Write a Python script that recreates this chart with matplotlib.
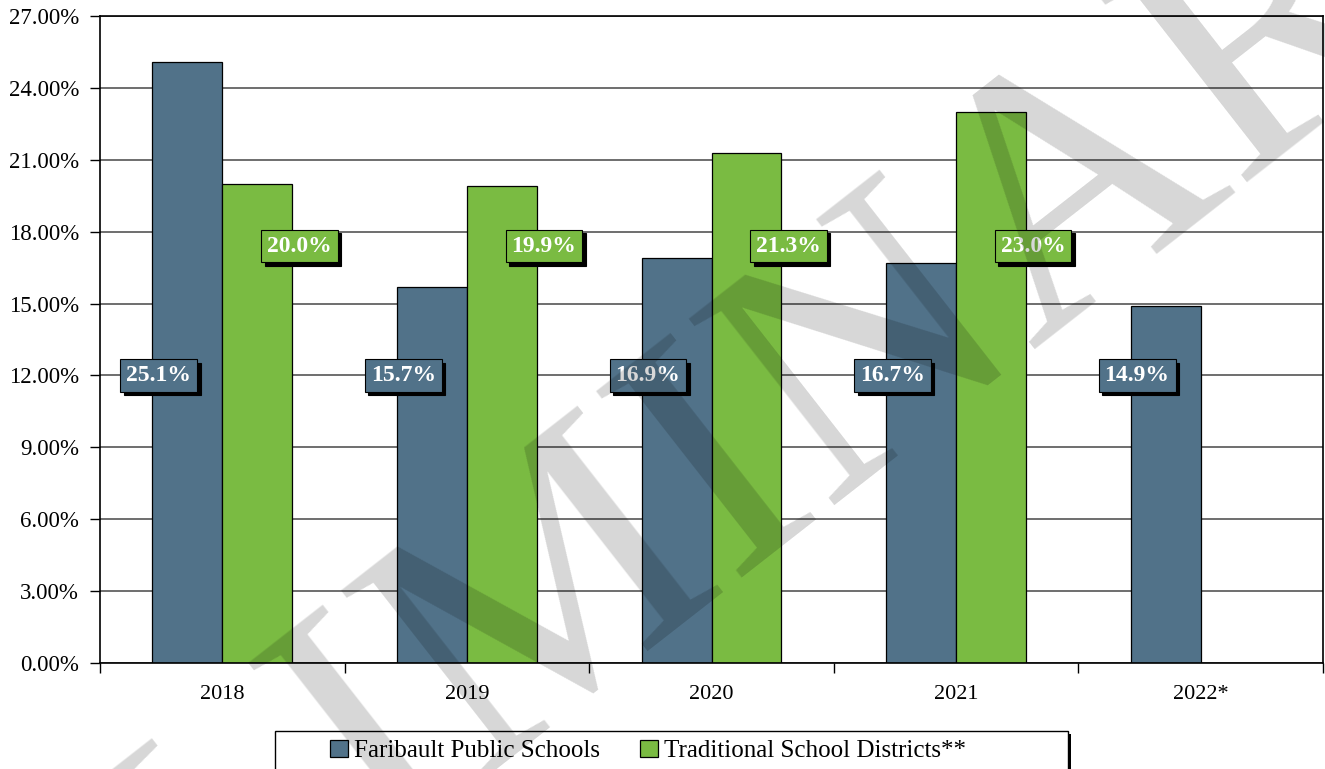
import matplotlib
matplotlib.use('Agg')
import numpy as np
import matplotlib.pyplot as plt
from matplotlib.patches import Rectangle
from matplotlib.ticker import MultipleLocator, FuncFormatter

plt.rcParams['font.family'] = ['Liberation Serif', 'DejaVu Serif']

years = ['2018', '2019', '2020', '2021', '2022*']
faribault = [25.1, 15.7, 16.9, 16.7, 14.9]
traditional = [20.0, 19.9, 21.3, 23.0, np.nan]
series_names = ['Faribault Public Schools', 'Traditional School Districts**']

blue = '#517289'
green = '#7abb42'
W, H = 1325, 769

fig = plt.figure(figsize=(W / 100, H / 100), dpi=100)
ax = fig.add_axes([100 / W, 1 - 663 / H, 1223 / W, 647 / H])

x = np.arange(len(years))
w = 0.286
ax.bar(x - w / 2, faribault, w, color=blue, edgecolor='black', linewidth=0.9,
       label=series_names[0], zorder=2)
ax.bar(x + w / 2, traditional, w, color=green, edgecolor='black', linewidth=0.9,
       label=series_names[1], zorder=2)


def label(xc, yc, txt, fc):
    # shadow box first, then the real one
    ax.annotate(txt, (xc, yc), xytext=(2.5, -2.5), textcoords='offset points',
                ha='center', va='center', fontsize=17, fontweight='bold',
                color='black', zorder=4,
                bbox=dict(boxstyle='square,pad=0.25', fc='black', ec='black', lw=0.8))
    ax.text(xc, yc, txt, ha='center', va='center', fontsize=17,
            fontweight='bold', color='white', zorder=5,
            bbox=dict(boxstyle='square,pad=0.25', fc=fc, ec='black', lw=0.8))


for i in range(len(years)):
    label(x[i] - 0.26, 12.0, f'{faribault[i]:.1f}%', blue)
    if not np.isnan(traditional[i]):
        label(x[i] + 0.315, 17.4, f'{traditional[i]:.1f}%', green)

ax.set_xlim(-0.5, len(years) - 0.5)
ax.set_ylim(0, 27)
ax.yaxis.set_major_locator(MultipleLocator(3))
ax.yaxis.set_major_formatter(FuncFormatter(lambda v, p: f'{v:.2f}%'))
ax.yaxis.grid(True, color='#6e6e6e', linewidth=1.4, zorder=0)
ax.set_axisbelow(True)

ax.set_xticks(np.arange(len(years) + 1) - 0.5)
ax.set_xticklabels([])
ax.set_xticks(x, minor=True)
ax.set_xticklabels(years, minor=True, fontsize=16)
ax.tick_params(axis='x', which='major', length=7, width=1, direction='out')
ax.tick_params(axis='x', which='minor', length=0, pad=16)
ax.tick_params(axis='y', length=7, width=1, labelsize=16.5, pad=8)
for s in ax.spines.values():
    s.set_color('black')
    s.set_linewidth(1.2)

# legend box drawn by hand (wider than the entries, with a dark shadow)
fig.patches.append(Rectangle((278 / W, -0.05), 793 / W, 1 - 734 / H + 0.05,
                             transform=fig.transFigure, fc='black', ec='none', zorder=3))
fig.patches.append(Rectangle((275 / W, -0.05), 793 / W, 1 - 731 / H + 0.05,
                             transform=fig.transFigure, fc='white', ec='black',
                             lw=1.0, zorder=3.5))
leg = fig.legend(loc='upper center', bbox_to_anchor=(648 / W, 1 - 731 / H),
                 ncol=2, fontsize=18, frameon=False,
                 handlelength=0.7, handleheight=0.7, handletextpad=0.25,
                 columnspacing=1.6, borderpad=0.35, borderaxespad=0)
leg.set_zorder(4)

# watermark
fig.text(651 / W, 1 - 640 / H, 'PRELIMINARY', fontsize=260,
         color='black', alpha=0.16, rotation=38, ha='center', va='baseline',
         rotation_mode='anchor', zorder=10)

fig.savefig('out.png', dpi=100)
